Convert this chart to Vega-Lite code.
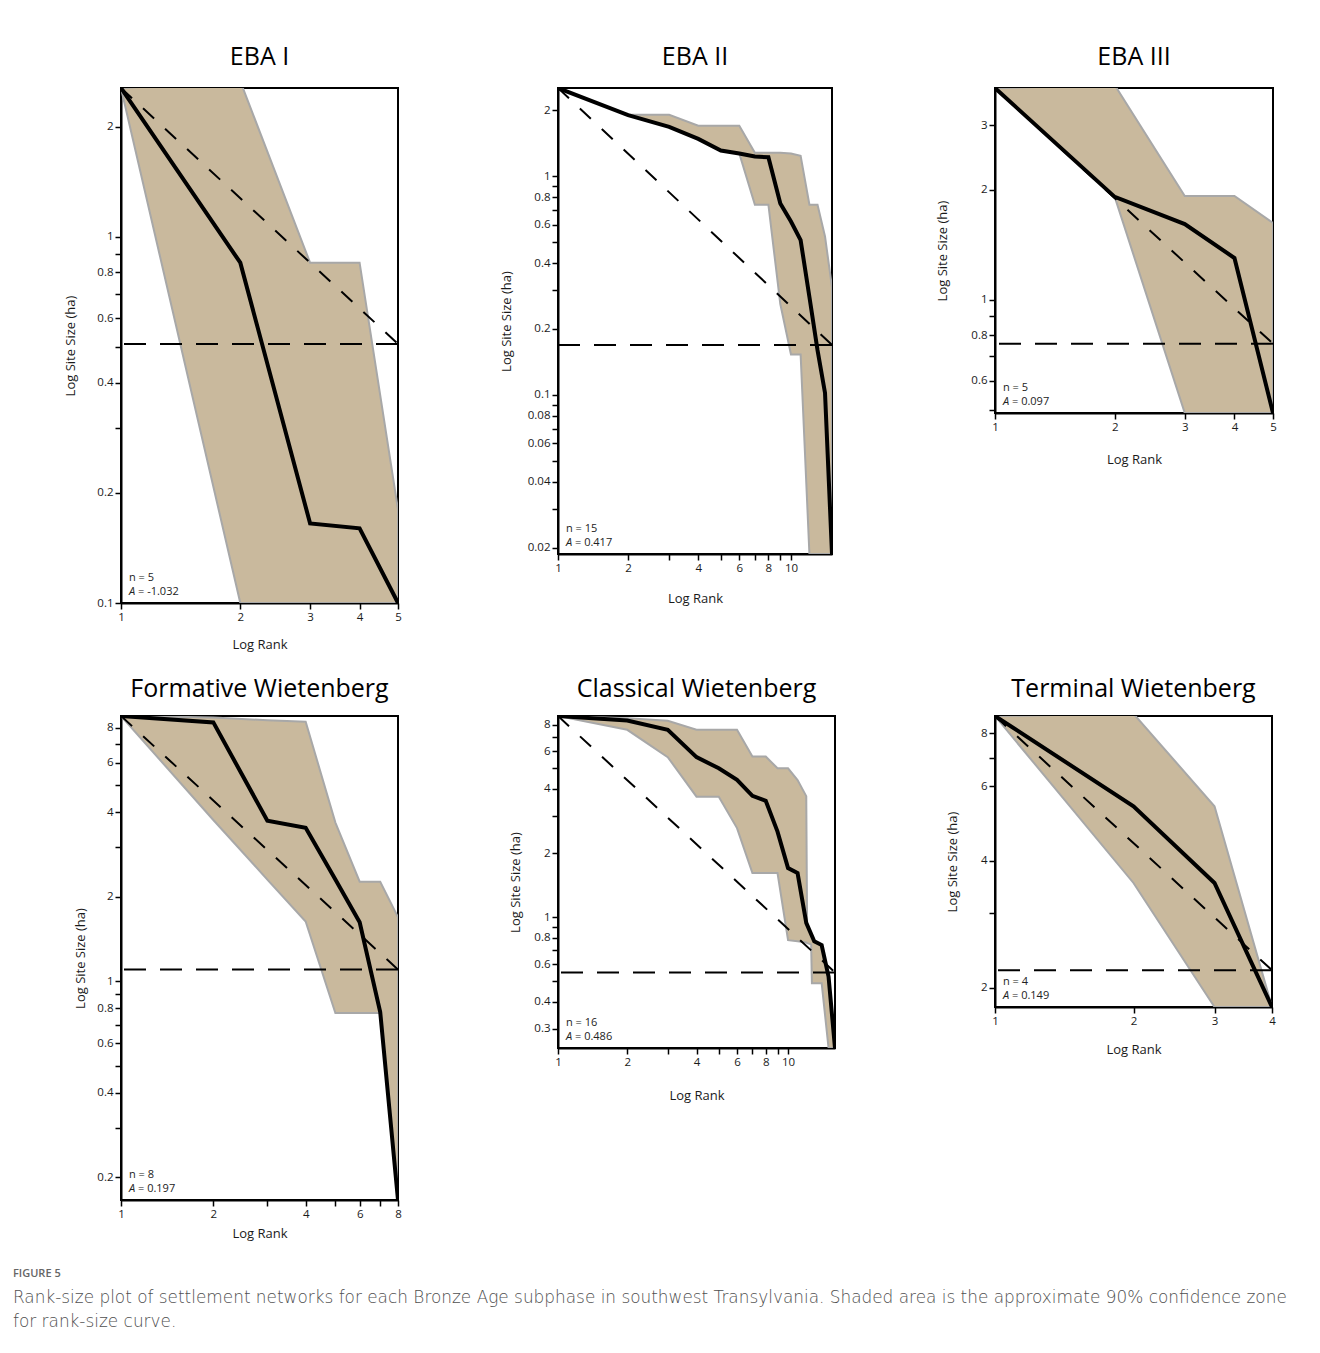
{
"$schema": "https://vega.github.io/schema/vega-lite/v6.json",
"padding": {"left": 13, "top": 44, "right": 5, "bottom": 5},
"background": "white",
"bounds": "flush",
"columns": 3,
"align": "each",
"spacing": {"row": 113, "column": 160},
"title": {"text": "FIGURE 5", "subtitle": ["Rank-size plot of settlement networks for each Bronze Age subphase in southwest Transylvania. Shaded area is the approximate 90% confidence zone", "for rank-size curve."], "orient": "bottom", "anchor": "start", "frame": "group", "dx": -108, "offset": 27, "baseline": "top", "font": "Open Sans", "fontSize": 11, "fontWeight": 600, "color": "#666666", "subtitleFont": "DejaVu Sans", "subtitleFontSize": 16.9, "subtitleFontWeight": 300, "subtitleColor": "#4f4f4f", "subtitleLineHeight": 24, "subtitlePadding": 11},
"datasets": {
"d1": [{"rank":1,"size":2.55,"lo":2.55,"hi":2.55},{"rank":2,"size":0.85,"lo":0.1,"hi":2.66},{"rank":3,"size":0.165,"lo":0.1,"hi":0.85},{"rank":4,"size":0.16,"lo":0.1,"hi":0.85},{"rank":5,"size":0.1,"lo":0.1,"hi":0.18}],
"z1": [{"rank":1,"zipf":2.55,"hline":0.51},{"rank":5,"zipf":0.51}],
"d2": [{"rank":1,"size":2.53,"lo":2.53,"hi":2.53},{"rank":2,"size":1.9,"lo":1.9,"hi":1.91},{"rank":3,"size":1.68,"lo":1.68,"hi":1.91},{"rank":4,"size":1.48,"lo":1.48,"hi":1.7},{"rank":5,"size":1.31,"lo":1.31,"hi":1.7},{"rank":6,"size":1.27,"lo":1.27,"hi":1.7},{"rank":7,"size":1.23,"lo":0.74,"hi":1.28},{"rank":8,"size":1.22,"lo":0.74,"hi":1.28},{"rank":9,"size":0.75,"lo":0.26,"hi":1.28},{"rank":10,"size":0.62,"lo":0.153,"hi":1.27},{"rank":11,"size":0.51,"lo":0.153,"hi":1.24},{"rank":12,"size":0.28,"lo":0.0187,"hi":0.74},{"rank":13,"size":0.16,"lo":0.0187,"hi":0.74},{"rank":14,"size":0.102,"lo":0.0187,"hi":0.53},{"rank":15,"size":0.0187,"lo":0.0187,"hi":0.31}],
"z2": [{"rank":1,"zipf":2.53,"hline":0.169},{"rank":15,"zipf":0.169}],
"d3": [{"rank":1,"size":3.79,"lo":3.79,"hi":3.79},{"rank":2,"size":1.91,"lo":1.91,"hi":3.86},{"rank":3,"size":1.61,"lo":0.49,"hi":1.92},{"rank":4,"size":1.3,"lo":0.49,"hi":1.92},{"rank":5,"size":0.49,"lo":0.49,"hi":1.62}],
"z3": [{"rank":1,"zipf":3.79,"hline":0.758},{"rank":5,"zipf":0.758}],
"d4": [{"rank":1,"size":8.8,"lo":8.8,"hi":8.8},{"rank":2,"size":8.35,"lo":3.75,"hi":8.7},{"rank":3,"size":3.73,"lo":2.3,"hi":8.5},{"rank":4,"size":3.52,"lo":1.63,"hi":8.4},{"rank":5,"size":2.3,"lo":0.77,"hi":3.67},{"rank":6,"size":1.62,"lo":0.77,"hi":2.26},{"rank":7,"size":0.776,"lo":0.77,"hi":2.26},{"rank":8,"size":0.166,"lo":0.166,"hi":1.69}],
"z4": [{"rank":1,"zipf":8.8,"hline":1.1},{"rank":8,"zipf":1.1}],
"d5": [{"rank":1,"size":8.8,"lo":8.8,"hi":8.8},{"rank":2,"size":8.38,"lo":7.58,"hi":8.6},{"rank":3,"size":7.58,"lo":5.64,"hi":8.35},{"rank":4,"size":5.64,"lo":3.68,"hi":7.58},{"rank":5,"size":5.0,"lo":3.68,"hi":7.58},{"rank":6,"size":4.41,"lo":2.62,"hi":7.58},{"rank":7,"size":3.71,"lo":1.61,"hi":5.68},{"rank":8,"size":3.52,"lo":1.61,"hi":5.68},{"rank":9,"size":2.52,"lo":1.61,"hi":5.0},{"rank":10,"size":1.7,"lo":0.78,"hi":5.0},{"rank":11,"size":1.61,"lo":0.77,"hi":4.4},{"rank":12,"size":0.94,"lo":0.76,"hi":3.7},{"rank":12.1,"lo":0.755,"hi":0.92},{"rank":12.6,"lo":0.745,"hi":0.83},{"rank":12.7,"lo":0.49,"hi":0.815},{"rank":13,"size":0.77,"lo":0.49,"hi":0.77},{"rank":14,"size":0.74,"lo":0.49,"hi":0.74},{"rank":15,"size":0.526,"lo":0.243,"hi":0.526},{"rank":16,"size":0.243,"lo":0.243,"hi":0.243}],
"z5": [{"rank":1,"zipf":8.8,"hline":0.55},{"rank":16,"zipf":0.55}],
"d6": [{"rank":1,"size":8.8,"lo":8.8,"hi":8.8},{"rank":2,"size":5.38,"lo":3.54,"hi":8.91},{"rank":3,"size":3.54,"lo":1.8,"hi":5.38},{"rank":4,"size":1.8,"lo":1.8,"hi":1.8}],
"z6": [{"rank":1,"zipf":8.8,"hline":2.2},{"rank":4,"zipf":2.2}]
},
"concat": [
{
"width": 277, "height": 515,
"title": {"text": "EBA I", "offset": 18},
"layer": [
{"data": {"name": "d1"}, "mark": {"type": "area", "fill": "#c9b99d", "stroke": "#a8a8a8", "strokeWidth": 2, "clip": true},
 "encoding": {
  "x": {"field": "rank", "type": "quantitative", "scale": {"type": "log", "domain": [1, 5], "nice": false}, "axis": {"title": "Log Rank", "values": [1,2,3,4,5], "labelExpr": "format(datum.value, '~g')", "titleY": 41, "titleBaseline": "middle"}},
  "y": {"field": "lo", "type": "quantitative", "scale": {"type": "log", "domain": [0.1, 2.55], "nice": false}, "axis": {"title": "Log Site Size (ha)", "values": [0.1,0.2,0.3,0.4,0.5,0.6,0.7,0.8,0.9,1,2], "labelExpr": "indexof([0.1,0.2,0.4,0.6,0.8,1,2], datum.value) >= 0 ? format(datum.value, '~g') : ''", "titleX": -51, "titleBaseline": "middle"}},
  "y2": {"field": "hi"}}},
{"data": {"name": "z1"}, "mark": {"type": "line", "color": "black", "strokeWidth": 2, "strokeDash": [15, 15], "clip": true},
 "encoding": {"x": {"field": "rank", "type": "quantitative", "scale": {"type": "log", "domain": [1, 5], "nice": false}}, "y": {"field": "zipf", "type": "quantitative", "scale": {"type": "log", "domain": [0.1, 2.55], "nice": false}}}},
{"data": {"name": "z1"}, "transform": [{"filter": "isValid(datum.hline)"}], "mark": {"type": "rule", "color": "black", "strokeWidth": 2, "strokeDash": [22, 14]},
 "encoding": {"y": {"field": "hline", "type": "quantitative", "scale": {"type": "log", "domain": [0.1, 2.55], "nice": false}}}},
{"data": {"name": "d1"}, "mark": {"type": "line", "color": "black", "strokeWidth": 4, "strokeJoin": "miter", "clip": true},
 "encoding": {"x": {"field": "rank", "type": "quantitative", "scale": {"type": "log", "domain": [1, 5], "nice": false}}, "y": {"field": "size", "type": "quantitative", "scale": {"type": "log", "domain": [0.1, 2.55], "nice": false}}}},
{"data": {"name": "z1"}, "transform": [{"filter": "isValid(datum.hline)"}], "mark": {"type": "text", "text": "n = 5", "align": "left", "baseline": "middle", "dx": 8, "dy": -25, "fontSize": 11, "color": "#222"},
 "encoding": {"x": {"datum": 1, "type": "quantitative"}, "y": {"datum": 0.1, "type": "quantitative"}}},
{"data": {"name": "z1"}, "transform": [{"filter": "isValid(datum.hline)"}], "mark": {"type": "text", "text": "A", "fontStyle": "italic", "align": "left", "baseline": "middle", "dx": 8, "dy": -11, "fontSize": 11, "color": "#222"},
 "encoding": {"x": {"datum": 1, "type": "quantitative"}, "y": {"datum": 0.1, "type": "quantitative"}}},
{"data": {"name": "z1"}, "transform": [{"filter": "isValid(datum.hline)"}], "mark": {"type": "text", "text": "= -1.032", "align": "left", "baseline": "middle", "dx": 17, "dy": -11, "fontSize": 11, "color": "#222"},
 "encoding": {"x": {"datum": 1, "type": "quantitative"}, "y": {"datum": 0.1, "type": "quantitative"}}}
]
},
{
"width": 274, "height": 466,
"title": {"text": "EBA II", "offset": 18},
"layer": [
{"data": {"name": "d2"}, "mark": {"type": "area", "fill": "#c9b99d", "stroke": "#a8a8a8", "strokeWidth": 2, "clip": true},
 "encoding": {
  "x": {"field": "rank", "type": "quantitative", "scale": {"type": "log", "domain": [1, 15], "nice": false}, "axis": {"title": "Log Rank", "values": [1,2,3,4,5,6,7,8,9,10], "labelExpr": "indexof([1,2,4,6,8,10], datum.value) >= 0 ? format(datum.value, '~g') : ''", "titleY": 44, "titleBaseline": "middle"}},
  "y": {"field": "lo", "type": "quantitative", "scale": {"type": "log", "domain": [0.0187, 2.53], "nice": false}, "axis": {"title": "Log Site Size (ha)", "values": [0.02,0.03,0.04,0.05,0.06,0.07,0.08,0.09,0.1,0.2,0.3,0.4,0.5,0.6,0.7,0.8,0.9,1,2], "labelExpr": "indexof([0.02,0.04,0.06,0.08,0.1,0.2,0.4,0.6,0.8,1,2], datum.value) >= 0 ? format(datum.value, '~g') : ''", "titleX": -52, "titleBaseline": "middle"}},
  "y2": {"field": "hi"}}},
{"data": {"name": "z2"}, "mark": {"type": "line", "color": "black", "strokeWidth": 2, "strokeDash": [15, 15], "clip": true},
 "encoding": {"x": {"field": "rank", "type": "quantitative", "scale": {"type": "log", "domain": [1, 15], "nice": false}}, "y": {"field": "zipf", "type": "quantitative", "scale": {"type": "log", "domain": [0.0187, 2.53], "nice": false}}}},
{"data": {"name": "z2"}, "transform": [{"filter": "isValid(datum.hline)"}], "mark": {"type": "rule", "color": "black", "strokeWidth": 2, "strokeDash": [22, 14]},
 "encoding": {"y": {"field": "hline", "type": "quantitative", "scale": {"type": "log", "domain": [0.0187, 2.53], "nice": false}}}},
{"data": {"name": "d2"}, "mark": {"type": "line", "color": "black", "strokeWidth": 4, "strokeJoin": "miter", "clip": true},
 "encoding": {"x": {"field": "rank", "type": "quantitative", "scale": {"type": "log", "domain": [1, 15], "nice": false}}, "y": {"field": "size", "type": "quantitative", "scale": {"type": "log", "domain": [0.0187, 2.53], "nice": false}}}},
{"data": {"name": "z2"}, "transform": [{"filter": "isValid(datum.hline)"}], "mark": {"type": "text", "text": "n = 15", "align": "left", "baseline": "middle", "dx": 8, "dy": -25, "fontSize": 11, "color": "#222"},
 "encoding": {"x": {"datum": 1, "type": "quantitative"}, "y": {"datum": 0.0187, "type": "quantitative"}}},
{"data": {"name": "z2"}, "transform": [{"filter": "isValid(datum.hline)"}], "mark": {"type": "text", "text": "A", "fontStyle": "italic", "align": "left", "baseline": "middle", "dx": 8, "dy": -11, "fontSize": 11, "color": "#222"},
 "encoding": {"x": {"datum": 1, "type": "quantitative"}, "y": {"datum": 0.0187, "type": "quantitative"}}},
{"data": {"name": "z2"}, "transform": [{"filter": "isValid(datum.hline)"}], "mark": {"type": "text", "text": "= 0.417", "align": "left", "baseline": "middle", "dx": 17, "dy": -11, "fontSize": 11, "color": "#222"},
 "encoding": {"x": {"datum": 1, "type": "quantitative"}, "y": {"datum": 0.0187, "type": "quantitative"}}}
]
},
{
"width": 278, "height": 325,
"title": {"text": "EBA III", "offset": 18},
"layer": [
{"data": {"name": "d3"}, "mark": {"type": "area", "fill": "#c9b99d", "stroke": "#a8a8a8", "strokeWidth": 2, "clip": true},
 "encoding": {
  "x": {"field": "rank", "type": "quantitative", "scale": {"type": "log", "domain": [1, 5], "nice": false}, "axis": {"title": "Log Rank", "values": [1,2,3,4,5], "labelExpr": "format(datum.value, '~g')", "titleY": 46, "titleBaseline": "middle"}},
  "y": {"field": "lo", "type": "quantitative", "scale": {"type": "log", "domain": [0.49, 3.79], "nice": false}, "axis": {"title": "Log Site Size (ha)", "values": [0.5,0.6,0.7,0.8,0.9,1,2,3], "labelExpr": "indexof([0.6,0.8,1,2,3], datum.value) >= 0 ? format(datum.value, '~g') : ''", "titleX": -53, "titleBaseline": "middle"}},
  "y2": {"field": "hi"}}},
{"data": {"name": "z3"}, "mark": {"type": "line", "color": "black", "strokeWidth": 2, "strokeDash": [15, 15], "clip": true},
 "encoding": {"x": {"field": "rank", "type": "quantitative", "scale": {"type": "log", "domain": [1, 5], "nice": false}}, "y": {"field": "zipf", "type": "quantitative", "scale": {"type": "log", "domain": [0.49, 3.79], "nice": false}}}},
{"data": {"name": "z3"}, "transform": [{"filter": "isValid(datum.hline)"}], "mark": {"type": "rule", "color": "black", "strokeWidth": 2, "strokeDash": [22, 14]},
 "encoding": {"y": {"field": "hline", "type": "quantitative", "scale": {"type": "log", "domain": [0.49, 3.79], "nice": false}}}},
{"data": {"name": "d3"}, "mark": {"type": "line", "color": "black", "strokeWidth": 4, "strokeJoin": "miter", "clip": true},
 "encoding": {"x": {"field": "rank", "type": "quantitative", "scale": {"type": "log", "domain": [1, 5], "nice": false}}, "y": {"field": "size", "type": "quantitative", "scale": {"type": "log", "domain": [0.49, 3.79], "nice": false}}}},
{"data": {"name": "z3"}, "transform": [{"filter": "isValid(datum.hline)"}], "mark": {"type": "text", "text": "n = 5", "align": "left", "baseline": "middle", "dx": 8, "dy": -25, "fontSize": 11, "color": "#222"},
 "encoding": {"x": {"datum": 1, "type": "quantitative"}, "y": {"datum": 0.49, "type": "quantitative"}}},
{"data": {"name": "z3"}, "transform": [{"filter": "isValid(datum.hline)"}], "mark": {"type": "text", "text": "A", "fontStyle": "italic", "align": "left", "baseline": "middle", "dx": 8, "dy": -11, "fontSize": 11, "color": "#222"},
 "encoding": {"x": {"datum": 1, "type": "quantitative"}, "y": {"datum": 0.49, "type": "quantitative"}}},
{"data": {"name": "z3"}, "transform": [{"filter": "isValid(datum.hline)"}], "mark": {"type": "text", "text": "= 0.097", "align": "left", "baseline": "middle", "dx": 17, "dy": -11, "fontSize": 11, "color": "#222"},
 "encoding": {"x": {"datum": 1, "type": "quantitative"}, "y": {"datum": 0.49, "type": "quantitative"}}}
]
},
{
"width": 277, "height": 484,
"title": {"text": "Formative Wietenberg", "offset": 14},
"layer": [
{"data": {"name": "d4"}, "mark": {"type": "area", "fill": "#c9b99d", "stroke": "#a8a8a8", "strokeWidth": 2, "clip": true},
 "encoding": {
  "x": {"field": "rank", "type": "quantitative", "scale": {"type": "log", "domain": [1, 8], "nice": false}, "axis": {"title": "Log Rank", "values": [1,2,3,4,5,6,7,8], "labelExpr": "indexof([1,2,4,6,8], datum.value) >= 0 ? format(datum.value, '~g') : ''", "titleY": 33, "titleBaseline": "middle"}},
  "y": {"field": "lo", "type": "quantitative", "scale": {"type": "log", "domain": [0.166, 8.8], "nice": false}, "axis": {"title": "Log Site Size (ha)", "values": [0.2,0.3,0.4,0.5,0.6,0.7,0.8,0.9,1,2,3,4,5,6,7,8], "labelExpr": "indexof([0.2,0.4,0.6,0.8,1,2,4,6,8], datum.value) >= 0 ? format(datum.value, '~g') : ''", "titleX": -41, "titleBaseline": "middle"}},
  "y2": {"field": "hi"}}},
{"data": {"name": "z4"}, "mark": {"type": "line", "color": "black", "strokeWidth": 2, "strokeDash": [15, 15], "clip": true},
 "encoding": {"x": {"field": "rank", "type": "quantitative", "scale": {"type": "log", "domain": [1, 8], "nice": false}}, "y": {"field": "zipf", "type": "quantitative", "scale": {"type": "log", "domain": [0.166, 8.8], "nice": false}}}},
{"data": {"name": "z4"}, "transform": [{"filter": "isValid(datum.hline)"}], "mark": {"type": "rule", "color": "black", "strokeWidth": 2, "strokeDash": [22, 14]},
 "encoding": {"y": {"field": "hline", "type": "quantitative", "scale": {"type": "log", "domain": [0.166, 8.8], "nice": false}}}},
{"data": {"name": "d4"}, "mark": {"type": "line", "color": "black", "strokeWidth": 4, "strokeJoin": "miter", "clip": true},
 "encoding": {"x": {"field": "rank", "type": "quantitative", "scale": {"type": "log", "domain": [1, 8], "nice": false}}, "y": {"field": "size", "type": "quantitative", "scale": {"type": "log", "domain": [0.166, 8.8], "nice": false}}}},
{"data": {"name": "z4"}, "transform": [{"filter": "isValid(datum.hline)"}], "mark": {"type": "text", "text": "n = 8", "align": "left", "baseline": "middle", "dx": 8, "dy": -25, "fontSize": 11, "color": "#222"},
 "encoding": {"x": {"datum": 1, "type": "quantitative"}, "y": {"datum": 0.166, "type": "quantitative"}}},
{"data": {"name": "z4"}, "transform": [{"filter": "isValid(datum.hline)"}], "mark": {"type": "text", "text": "A", "fontStyle": "italic", "align": "left", "baseline": "middle", "dx": 8, "dy": -11, "fontSize": 11, "color": "#222"},
 "encoding": {"x": {"datum": 1, "type": "quantitative"}, "y": {"datum": 0.166, "type": "quantitative"}}},
{"data": {"name": "z4"}, "transform": [{"filter": "isValid(datum.hline)"}], "mark": {"type": "text", "text": "= 0.197", "align": "left", "baseline": "middle", "dx": 17, "dy": -11, "fontSize": 11, "color": "#222"},
 "encoding": {"x": {"datum": 1, "type": "quantitative"}, "y": {"datum": 0.166, "type": "quantitative"}}}
]
},
{
"width": 277, "height": 332,
"title": {"text": "Classical Wietenberg", "offset": 14},
"layer": [
{"data": {"name": "d5"}, "mark": {"type": "area", "fill": "#c9b99d", "stroke": "#a8a8a8", "strokeWidth": 2, "clip": true},
 "encoding": {
  "x": {"field": "rank", "type": "quantitative", "scale": {"type": "log", "domain": [1, 16], "nice": false}, "axis": {"title": "Log Rank", "values": [1,2,3,4,5,6,7,8,9,10], "labelExpr": "indexof([1,2,4,6,8,10], datum.value) >= 0 ? format(datum.value, '~g') : ''", "titleY": 47, "titleBaseline": "middle"}},
  "y": {"field": "lo", "type": "quantitative", "scale": {"type": "log", "domain": [0.243, 8.8], "nice": false}, "axis": {"title": "Log Site Size (ha)", "values": [0.3,0.4,0.5,0.6,0.7,0.8,0.9,1,2,3,4,5,6,7,8], "labelExpr": "indexof([0.3,0.4,0.6,0.8,1,2,4,6,8], datum.value) >= 0 ? format(datum.value, '~g') : ''", "titleX": -43, "titleBaseline": "middle"}},
  "y2": {"field": "hi"}}},
{"data": {"name": "z5"}, "mark": {"type": "line", "color": "black", "strokeWidth": 2, "strokeDash": [15, 15], "clip": true},
 "encoding": {"x": {"field": "rank", "type": "quantitative", "scale": {"type": "log", "domain": [1, 16], "nice": false}}, "y": {"field": "zipf", "type": "quantitative", "scale": {"type": "log", "domain": [0.243, 8.8], "nice": false}}}},
{"data": {"name": "z5"}, "transform": [{"filter": "isValid(datum.hline)"}], "mark": {"type": "rule", "color": "black", "strokeWidth": 2, "strokeDash": [22, 14]},
 "encoding": {"y": {"field": "hline", "type": "quantitative", "scale": {"type": "log", "domain": [0.243, 8.8], "nice": false}}}},
{"data": {"name": "d5"}, "transform": [{"filter": "isValid(datum.size)"}], "mark": {"type": "line", "color": "black", "strokeWidth": 4, "strokeJoin": "miter", "clip": true},
 "encoding": {"x": {"field": "rank", "type": "quantitative", "scale": {"type": "log", "domain": [1, 16], "nice": false}}, "y": {"field": "size", "type": "quantitative", "scale": {"type": "log", "domain": [0.243, 8.8], "nice": false}}}},
{"data": {"name": "z5"}, "transform": [{"filter": "isValid(datum.hline)"}], "mark": {"type": "text", "text": "n = 16", "align": "left", "baseline": "middle", "dx": 8, "dy": -25, "fontSize": 11, "color": "#222"},
 "encoding": {"x": {"datum": 1, "type": "quantitative"}, "y": {"datum": 0.243, "type": "quantitative"}}},
{"data": {"name": "z5"}, "transform": [{"filter": "isValid(datum.hline)"}], "mark": {"type": "text", "text": "A", "fontStyle": "italic", "align": "left", "baseline": "middle", "dx": 8, "dy": -11, "fontSize": 11, "color": "#222"},
 "encoding": {"x": {"datum": 1, "type": "quantitative"}, "y": {"datum": 0.243, "type": "quantitative"}}},
{"data": {"name": "z5"}, "transform": [{"filter": "isValid(datum.hline)"}], "mark": {"type": "text", "text": "= 0.486", "align": "left", "baseline": "middle", "dx": 17, "dy": -11, "fontSize": 11, "color": "#222"},
 "encoding": {"x": {"datum": 1, "type": "quantitative"}, "y": {"datum": 0.243, "type": "quantitative"}}}
]
},
{
"width": 277, "height": 291,
"title": {"text": "Terminal Wietenberg", "offset": 14},
"layer": [
{"data": {"name": "d6"}, "mark": {"type": "area", "fill": "#c9b99d", "stroke": "#a8a8a8", "strokeWidth": 2, "clip": true},
 "encoding": {
  "x": {"field": "rank", "type": "quantitative", "scale": {"type": "log", "domain": [1, 4], "nice": false}, "axis": {"title": "Log Rank", "values": [1,2,3,4], "labelExpr": "format(datum.value, '~g')", "titleY": 42, "titleBaseline": "middle"}},
  "y": {"field": "lo", "type": "quantitative", "scale": {"type": "log", "domain": [1.8, 8.8], "nice": false}, "axis": {"title": "Log Site Size (ha)", "values": [2,3,4,6,7,8], "labelExpr": "indexof([2,4,6,8], datum.value) >= 0 ? format(datum.value, '~g') : ''", "titleX": -43, "titleBaseline": "middle"}},
  "y2": {"field": "hi"}}},
{"data": {"name": "z6"}, "mark": {"type": "line", "color": "black", "strokeWidth": 2, "strokeDash": [15, 15], "clip": true},
 "encoding": {"x": {"field": "rank", "type": "quantitative", "scale": {"type": "log", "domain": [1, 4], "nice": false}}, "y": {"field": "zipf", "type": "quantitative", "scale": {"type": "log", "domain": [1.8, 8.8], "nice": false}}}},
{"data": {"name": "z6"}, "transform": [{"filter": "isValid(datum.hline)"}], "mark": {"type": "rule", "color": "black", "strokeWidth": 2, "strokeDash": [22, 14]},
 "encoding": {"y": {"field": "hline", "type": "quantitative", "scale": {"type": "log", "domain": [1.8, 8.8], "nice": false}}}},
{"data": {"name": "d6"}, "mark": {"type": "line", "color": "black", "strokeWidth": 4, "strokeJoin": "miter", "clip": true},
 "encoding": {"x": {"field": "rank", "type": "quantitative", "scale": {"type": "log", "domain": [1, 4], "nice": false}}, "y": {"field": "size", "type": "quantitative", "scale": {"type": "log", "domain": [1.8, 8.8], "nice": false}}}},
{"data": {"name": "z6"}, "transform": [{"filter": "isValid(datum.hline)"}], "mark": {"type": "text", "text": "n = 4", "align": "left", "baseline": "middle", "dx": 8, "dy": -25, "fontSize": 11, "color": "#222"},
 "encoding": {"x": {"datum": 1, "type": "quantitative"}, "y": {"datum": 1.8, "type": "quantitative"}}},
{"data": {"name": "z6"}, "transform": [{"filter": "isValid(datum.hline)"}], "mark": {"type": "text", "text": "A", "fontStyle": "italic", "align": "left", "baseline": "middle", "dx": 8, "dy": -11, "fontSize": 11, "color": "#222"},
 "encoding": {"x": {"datum": 1, "type": "quantitative"}, "y": {"datum": 1.8, "type": "quantitative"}}},
{"data": {"name": "z6"}, "transform": [{"filter": "isValid(datum.hline)"}], "mark": {"type": "text", "text": "= 0.149", "align": "left", "baseline": "middle", "dx": 17, "dy": -11, "fontSize": 11, "color": "#222"},
 "encoding": {"x": {"datum": 1, "type": "quantitative"}, "y": {"datum": 1.8, "type": "quantitative"}}}
]
}
],
"config": {
 "font": "Open Sans",
 "view": {"stroke": "black", "strokeWidth": 2},
 "axis": {"grid": false, "domainColor": "black", "domainWidth": 2, "tickColor": "black", "tickWidth": 1.5, "tickSize": 6, "labelFont": "Open Sans", "labelFontSize": 11.5, "labelColor": "#1a1a1a", "labelPadding": 2, "titleFont": "Open Sans", "titleFontSize": 13, "titleFontWeight": "normal", "titleColor": "#1a1a1a", "labelOverlap": false, "labelFlush": false, "labelBound": false},
 "title": {"font": "Open Sans", "fontSize": 25, "fontWeight": "normal", "color": "black", "baseline": "middle", "anchor": "middle"}
}
}
